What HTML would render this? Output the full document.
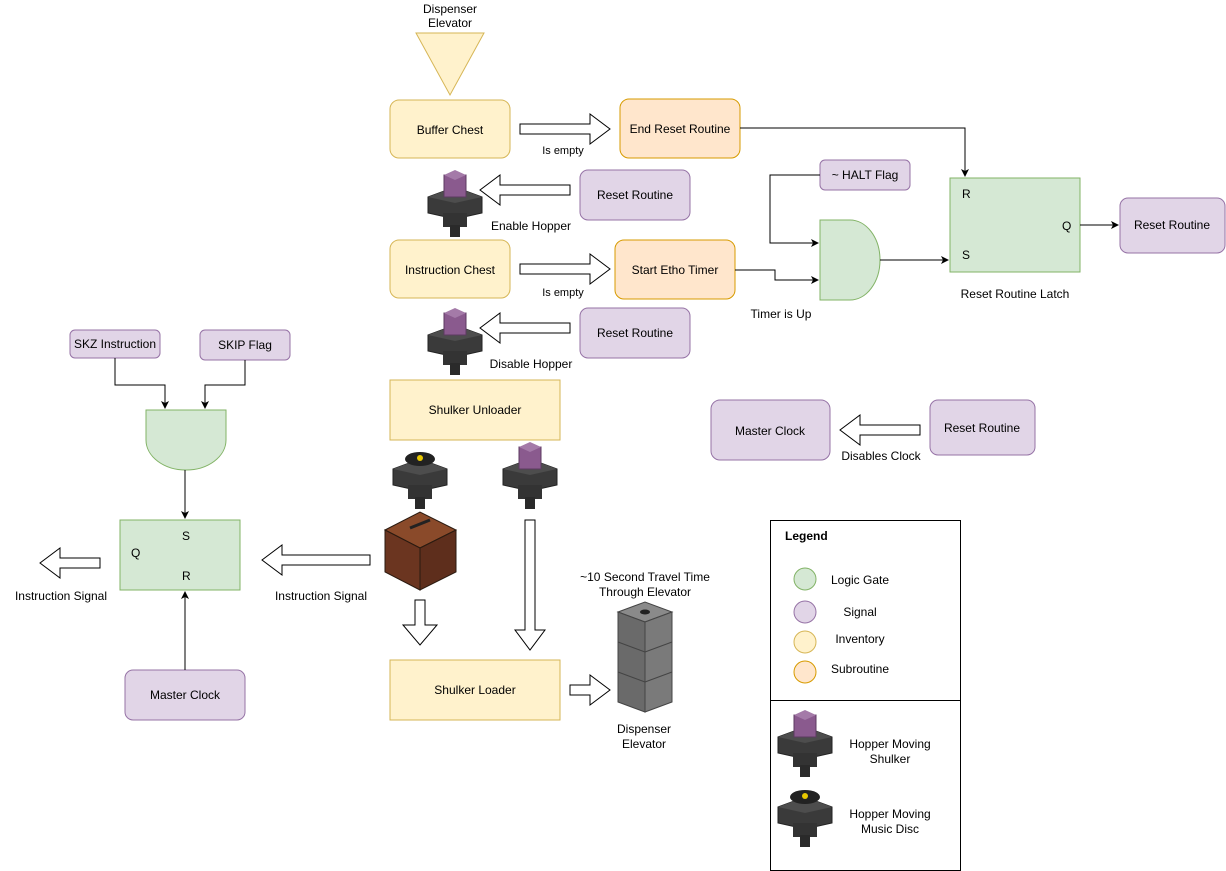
<!DOCTYPE html>
<html><head><meta charset="utf-8"><style>
html,body{margin:0;padding:0;background:#fff;}
svg{display:block;font-family:"Liberation Sans",Arial,sans-serif;}
text{font-size:12px;fill:#000;}
</style></head><body>
<svg width="1226" height="871" viewBox="0 0 1226 871" xmlns="http://www.w3.org/2000/svg">
<defs>
<marker id="ah" markerWidth="8" markerHeight="8" refX="7" refY="4" orient="auto" markerUnits="userSpaceOnUse">
<path d="M0,0 L8,4 L0,8 L2,4 z" fill="#000"/></marker>
<g id="hopS">
<polygon points="-27,-8 0,-18 27,-8 27,8 0,14 -27,8" fill="#3a3a3a" stroke="#222"/>
<polygon points="-27,-8 0,-18 27,-8 0,-2" fill="#4d4d4d"/>
<rect x="-12" y="8" width="24" height="14" fill="#333"/>
<rect x="-5" y="20" width="10" height="12" fill="#2a2a2a"/>
<rect x="-11" y="-30" width="22" height="22" fill="#8a5a8e" stroke="#5c3a60"/>
<polygon points="-11,-30 0,-35 11,-30 0,-25" fill="#a47aa8"/>
</g>
<g id="hopD">
<polygon points="-27,-8 0,-18 27,-8 27,8 0,14 -27,8" fill="#3a3a3a" stroke="#222"/>
<polygon points="-27,-8 0,-18 27,-8 0,-2" fill="#4d4d4d"/>
<rect x="-12" y="8" width="24" height="14" fill="#333"/>
<rect x="-5" y="20" width="10" height="12" fill="#2a2a2a"/>
<ellipse cx="0" cy="-18" rx="15" ry="7" fill="#222"/>
<circle cx="0" cy="-19" r="3" fill="#e8c800"/>
</g>
</defs>

<!-- triangle -->
<text x="450" y="13" text-anchor="middle">Dispenser</text>
<text x="450" y="27" text-anchor="middle">Elevator</text>
<polygon points="416,33 484,33 450,95" fill="#fff2cc" stroke="#d6b656"/>

<!-- yellow boxes -->
<rect x="390" y="100" width="120" height="58" rx="9" fill="#fff2cc" stroke="#d6b656"/>
<text x="450" y="134" text-anchor="middle">Buffer Chest</text>
<rect x="390" y="240" width="120" height="58" rx="9" fill="#fff2cc" stroke="#d6b656"/>
<text x="450" y="274" text-anchor="middle">Instruction Chest</text>
<rect x="390" y="380" width="170" height="60" fill="#fff2cc" stroke="#d6b656"/>
<text x="475" y="414" text-anchor="middle">Shulker Unloader</text>
<rect x="390" y="660" width="170" height="60" fill="#fff2cc" stroke="#d6b656"/>
<text x="475" y="694" text-anchor="middle">Shulker Loader</text>

<!-- orange -->
<rect x="620" y="99" width="120" height="59" rx="9" fill="#ffe6cc" stroke="#d79b00"/>
<text x="680" y="133" text-anchor="middle">End Reset Routine</text>
<rect x="615" y="240" width="120" height="59" rx="9" fill="#ffe6cc" stroke="#d79b00"/>
<text x="675" y="274" text-anchor="middle">Start Etho Timer</text>

<!-- purple -->
<rect x="580" y="170" width="110" height="50" rx="8" fill="#e1d5e7" stroke="#9673a6"/>
<text x="635" y="199" text-anchor="middle">Reset Routine</text>
<rect x="580" y="308" width="110" height="50" rx="8" fill="#e1d5e7" stroke="#9673a6"/>
<text x="635" y="337" text-anchor="middle">Reset Routine</text>
<rect x="820" y="160" width="90" height="30" rx="5" fill="#e1d5e7" stroke="#9673a6"/>
<text x="865" y="179" text-anchor="middle">~ HALT Flag</text>
<rect x="1120" y="198" width="105" height="55" rx="8" fill="#e1d5e7" stroke="#9673a6"/>
<text x="1172" y="229" text-anchor="middle">Reset Routine</text>
<rect x="711" y="400" width="119" height="60" rx="9" fill="#e1d5e7" stroke="#9673a6"/>
<text x="770" y="435" text-anchor="middle">Master Clock</text>
<rect x="930" y="400" width="105" height="55" rx="8" fill="#e1d5e7" stroke="#9673a6"/>
<text x="982" y="432" text-anchor="middle">Reset Routine</text>
<rect x="70" y="330" width="90" height="28" rx="5" fill="#e1d5e7" stroke="#9673a6"/>
<text x="115" y="348" text-anchor="middle">SKZ Instruction</text>
<rect x="200" y="330" width="90" height="30" rx="5" fill="#e1d5e7" stroke="#9673a6"/>
<text x="245" y="349" text-anchor="middle">SKIP Flag</text>
<rect x="125" y="670" width="120" height="50" rx="8" fill="#e1d5e7" stroke="#9673a6"/>
<text x="185" y="699" text-anchor="middle">Master Clock</text>

<!-- gates -->
<path d="M820,220 L850,220 A30,40 0 0 1 850,300 L820,300 Z" fill="#d5e8d4" stroke="#82b366"/>
<path d="M146,410 L226,410 L226,440 A40,30 0 0 1 146,440 Z" fill="#d5e8d4" stroke="#82b366"/>
<rect x="950" y="178" width="130" height="94" fill="#d5e8d4" stroke="#82b366"/>
<text x="962" y="198">R</text><text x="962" y="259">S</text><text x="1062" y="230">Q</text>
<text x="1015" y="298" text-anchor="middle">Reset Routine Latch</text>
<rect x="120" y="520" width="120" height="70" fill="#d5e8d4" stroke="#82b366"/>
<text x="182" y="540">S</text><text x="182" y="580">R</text><text x="131" y="557">Q</text>

<!-- connectors -->
<g fill="none" stroke="#000" stroke-width="1">
<path d="M740,128 H965 V176" marker-end="url(#ah)"/>
<path d="M820,175 H770 V243 H818" marker-end="url(#ah)"/>
<path d="M735,270 H775 V280 H818" marker-end="url(#ah)"/>
<path d="M880,260 H948" marker-end="url(#ah)"/>
<path d="M1080,225 H1118" marker-end="url(#ah)"/>
<path d="M115,358 V385 H165 V408" marker-end="url(#ah)"/>
<path d="M245,360 V385 H205 V408" marker-end="url(#ah)"/>
<path d="M185,470 V518" marker-end="url(#ah)"/>
<path d="M185,670 V592" marker-end="url(#ah)"/>
</g>

<!-- block arrows -->
<g fill="#fff" stroke="#000">
<polygon points="520,124 590,124 590,114 610,129 590,144 590,134 520,134"/>
<polygon points="520,264 590,264 590,254 610,269 590,284 590,274 520,274"/>
<polygon points="570,185 500,185 500,175 480,190 500,205 500,195 570,195"/>
<polygon points="570,323 500,323 500,313 480,328 500,343 500,333 570,333"/>
<polygon points="920,425 860,425 860,415 840,430 860,445 860,435 920,435"/>
<polygon points="370,555 282,555 282,545 262,560 282,575 282,565 370,565"/>
<polygon points="100,558 60,558 60,548 40,563 60,578 60,568 100,568"/>
<polygon points="570,685 590,685 590,675 610,690 590,705 590,695 570,695"/>
<polygon points="415,600 425,600 425,625 437,625 420,645 403,625 415,625"/>
<polygon points="525,520 535,520 535,630 545,630 530,650 515,630 525,630"/>
</g>

<!-- labels -->
<text x="563" y="154" text-anchor="middle" style="font-size:11px">Is empty</text>
<text x="563" y="296" text-anchor="middle" style="font-size:11px">Is empty</text>
<text x="531" y="230" text-anchor="middle">Enable Hopper</text>
<text x="531" y="368" text-anchor="middle">Disable Hopper</text>
<text x="781" y="318" text-anchor="middle">Timer is Up</text>
<text x="881" y="460" text-anchor="middle">Disables Clock</text>
<text x="321" y="600" text-anchor="middle">Instruction Signal</text>
<text x="61" y="600" text-anchor="middle">Instruction Signal</text>
<text x="645" y="581" text-anchor="middle">~10 Second Travel Time</text>
<text x="645" y="596" text-anchor="middle">Through Elevator</text>
<text x="644" y="733" text-anchor="middle">Dispenser</text>
<text x="644" y="748" text-anchor="middle">Elevator</text>

<!-- icons -->
<use href="#hopS" x="455" y="205"/>
<use href="#hopS" x="455" y="343"/>
<use href="#hopD" x="420" y="477"/>
<use href="#hopS" x="530" y="477"/>
<!-- note block -->
<polygon points="385,530 420,512 456,530 420,548" fill="#8a4a2a" stroke="#2a1a10"/>
<line x1="410" y1="528" x2="430" y2="520" stroke="#222" stroke-width="3"/>
<polygon points="385,530 420,548 420,590 385,572" fill="#6b3520" stroke="#2a1a10"/>
<polygon points="420,548 456,530 456,572 420,590" fill="#5e2e1c" stroke="#2a1a10"/>
<!-- cobble pillar -->
<polygon points="618,612 645,602 672,612 645,622" fill="#8a8a8a" stroke="#444"/>
<ellipse cx="645" cy="612" rx="5" ry="2.5" fill="#222"/>
<polygon points="618,612 645,622 645,712 618,702" fill="#6a6a6a" stroke="#444"/>
<polygon points="645,622 672,612 672,702 645,712" fill="#7a7a7a" stroke="#444"/>
<line x1="618" y1="642" x2="645" y2="652" stroke="#444"/><line x1="645" y1="652" x2="672" y2="642" stroke="#444"/>
<line x1="618" y1="672" x2="645" y2="682" stroke="#444"/><line x1="645" y1="682" x2="672" y2="672" stroke="#444"/>

<!-- legend -->
<rect x="770.5" y="520.5" width="190" height="350" fill="#fff" stroke="#000"/>
<line x1="770" y1="700.5" x2="960" y2="700.5" stroke="#000"/>
<text x="785" y="540" style="font-weight:bold">Legend</text>
<circle cx="805" cy="579" r="11" fill="#d5e8d4" stroke="#82b366"/>
<text x="860" y="584" text-anchor="middle">Logic Gate</text>
<circle cx="805" cy="612" r="11" fill="#e1d5e7" stroke="#9673a6"/>
<text x="860" y="616" text-anchor="middle">Signal</text>
<circle cx="805" cy="642" r="11" fill="#fff2cc" stroke="#d6b656"/>
<text x="860" y="643" text-anchor="middle">Inventory</text>
<circle cx="805" cy="672" r="11" fill="#ffe6cc" stroke="#d79b00"/>
<text x="860" y="673" text-anchor="middle">Subroutine</text>
<use href="#hopS" x="805" y="745"/>
<text x="890" y="748" text-anchor="middle">Hopper Moving</text>
<text x="890" y="763" text-anchor="middle">Shulker</text>
<use href="#hopD" x="805" y="815"/>
<text x="890" y="818" text-anchor="middle">Hopper Moving</text>
<text x="890" y="833" text-anchor="middle">Music Disc</text>
</svg>
</body></html>
